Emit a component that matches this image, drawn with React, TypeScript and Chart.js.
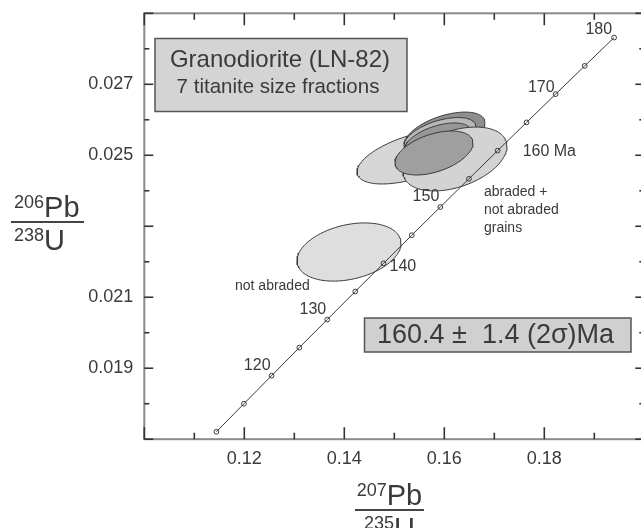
import React, { useEffect, useRef } from 'react';
import { Chart, registerables } from 'chart.js';

Chart.register(...registerables);

const FONT = '"Liberation Sans", Arial, Helvetica, sans-serif';
const TEXT = '#3a3a3a';

// Concordia curve (207Pb/235U, 206Pb/238U), ticks every 5 Ma
const concordiaAges = [110, 115, 120, 125, 130, 135, 140, 145, 150, 155, 160, 165, 170, 175, 180];
const concordiaPb207U235 = [0.11442, 0.11992, 0.12545, 0.131, 0.13659, 0.1422, 0.14784, 0.1535, 0.1592, 0.16492, 0.17067, 0.17645, 0.18226, 0.18809, 0.19396];
const concordiaPb206U238 = [0.01721, 0.017999, 0.018789, 0.01958, 0.020371, 0.021163, 0.021955, 0.022748, 0.023542, 0.024336, 0.025131, 0.025926, 0.026722, 0.027519, 0.028316];
const labelledAges = [120, 130, 140, 150, 160, 170, 180];

// Titanite size fractions: ellipse centre, 2-sigma errors, error correlation
const fractionIds = ['A', 'B', 'C', 'D', 'E', 'F', 'G'];
const fractionPb207U235 = [0.15374, 0.16014, 0.15914, 0.15874, 0.16214, 0.15794, 0.14094];
const fractionPb206U238 = [0.024951, 0.025627, 0.025543, 0.02543, 0.024895, 0.025064, 0.022274];
const fractionErrX = [0.0112, 0.008, 0.0072, 0.0066, 0.0104, 0.0078, 0.0104];
const fractionErrY = [0.00076, 0.00059, 0.00052, 0.00048, 0.0009, 0.00062, 0.00082];
const fractionRho = [0.55, 0.5, 0.5, 0.5, 0.4, 0.45, 0.3];

const xLabelledTicks = [0.12, 0.14, 0.16, 0.18];
const yLabelledTicks = [0.019, 0.021, 0.025, 0.027];

// styles (not data)
const fractionFills = ['#d6d6d6', '#8e8e8e', '#b8b8b8', '#979797', '#d3d3d3', '#9f9f9f', '#dedede'];
const fractionOrder = [7, 6, 5, 4, 3, 2, 8];

function ellipsePoints(i: number) {
  const pts: { x: number; y: number }[] = [];
  const n = 120;
  const r = fractionRho[i];
  const s = Math.sqrt(1 - r * r);
  for (let k = 0; k <= n; k++) {
    const t = (2 * Math.PI * k) / n;
    pts.push({
      x: fractionPb207U235[i] + fractionErrX[i] * Math.cos(t),
      y: fractionPb206U238[i] + fractionErrY[i] * (r * Math.cos(t) + s * Math.sin(t)),
    });
  }
  return pts;
}

const ageLabelPlacement: Record<number, [CanvasTextAlign, number, number, string]> = {
  120: ['right', -1, -10, '120'],
  130: ['right', -1, -10, '130'],
  140: ['left', 6, 3, '140'],
  150: ['right', -1, -10, '150'],
  160: ['left', 25, 1, '160 Ma'],
  170: ['right', -1, -7, '170'],
  180: ['right', -2, -8, '180'],
};

const decorPlugin = {
  id: 'decor',
  afterDraw(chart: any) {
    const { ctx, chartArea: ca, scales } = chart;
    const xs = scales.x;
    const ys = scales.y;
    ctx.save();

    // frame
    ctx.strokeStyle = '#8a8a8a';
    ctx.lineWidth = 2;
    ctx.strokeRect(ca.left, ca.top, ca.right - ca.left, ca.bottom - ca.top);

    const line = (x1: number, y1: number, x2: number, y2: number) => {
      ctx.beginPath();
      ctx.moveTo(x1, y1);
      ctx.lineTo(x2, y2);
      ctx.stroke();
    };
    // inward tick marks on all four sides
    ctx.strokeStyle = '#333';
    ctx.lineWidth = 1.6;
    xs.ticks.forEach((t: any) => {
      const px = xs.getPixelForValue(t.value);
      const major = Math.round(t.value * 100) % 2 === 0;
      const len = major ? 12 : 6.5;
      line(px, ca.bottom, px, ca.bottom - len);
      line(px, ca.top, px, ca.top + len);
    });
    ys.ticks.forEach((t: any) => {
      const py = ys.getPixelForValue(t.value);
      const major = Math.round(t.value * 1000) % 2 === 1;
      const len = major ? 9 : 5;
      line(ca.left, py, ca.left + len, py);
      line(ca.right, py, ca.right - len, py);
    });

    // age labels on the concordia
    ctx.fillStyle = TEXT;
    ctx.font = `16px ${FONT}`;
    ctx.textBaseline = 'middle';
    labelledAges.forEach((age) => {
      const i = concordiaAges.indexOf(age);
      const px = xs.getPixelForValue(concordiaPb207U235[i]);
      const py = ys.getPixelForValue(concordiaPb206U238[i]);
      const [align, dx, dy, txt] = ageLabelPlacement[age];
      ctx.textAlign = align;
      ctx.fillText(txt, px + dx, py + dy);
    });

    // annotations
    ctx.font = `14px ${FONT}`;
    ctx.textAlign = 'left';
    ctx.fillText('not abraded', 235, 286);
    ctx.fillText('abraded +', 484, 192);
    ctx.fillText('not abraded', 484, 210);
    ctx.fillText('grains', 484, 228);

    // title box
    ctx.fillStyle = '#d4d4d4';
    ctx.fillRect(155, 38.5, 252, 73);
    ctx.strokeStyle = '#555';
    ctx.lineWidth = 1.5;
    ctx.strokeRect(155, 38.5, 252, 73);
    ctx.fillStyle = TEXT;
    ctx.textAlign = 'center';
    ctx.font = `24px ${FONT}`;
    ctx.fillText('Granodiorite (LN-82)', 280, 60);
    ctx.font = `20.5px ${FONT}`;
    ctx.fillText('7 titanite size fractions', 278, 87);

    // age box
    ctx.fillStyle = '#d0d0d0';
    ctx.fillRect(364.5, 318, 266.5, 34);
    ctx.strokeStyle = '#555';
    ctx.strokeRect(364.5, 318, 266.5, 34);
    ctx.fillStyle = TEXT;
    ctx.textAlign = 'left';
    ctx.font = `27px ${FONT}`;
    ctx.fillText('160.4 \u00b1  1.4 (2\u03c3)Ma', 377, 336);

    // axis titles as fractions
    const fraction = (
      cx: number, lineY: number, x1: number, x2: number,
      topSup: string, topMain: string, botSup: string, botMain: string, leftAlign: number | null
    ) => {
      ctx.textBaseline = 'alphabetic';
      ctx.textAlign = 'left';
      const supFont = `18px ${FONT}`;
      const mainFont = `29px ${FONT}`;
      const draw = (sup: string, main: string, baseline: number) => {
        ctx.font = supFont;
        const ws = ctx.measureText(sup).width;
        ctx.font = mainFont;
        const wm = ctx.measureText(main).width;
        const start = leftAlign !== null ? leftAlign : cx - (ws + wm) / 2;
        ctx.font = supFont;
        ctx.fillText(sup, start, baseline - 9);
        ctx.font = mainFont;
        ctx.fillText(main, start + ws, baseline);
      };
      draw(topSup, topMain, lineY - 5);
      ctx.strokeStyle = '#444';
      ctx.lineWidth = 2;
      line(x1, lineY, x2, lineY);
      draw(botSup, botMain, lineY + 28);
    };
    ctx.fillStyle = TEXT;
    fraction(47.5, 222, 11, 84, '206', 'Pb', '238', 'U', 14);
    fraction(389.5, 510, 355, 424, '207', 'Pb', '235', 'U', null);

    ctx.restore();
  },
};

export default function App() {
  const ref = useRef<HTMLCanvasElement | null>(null);
  useEffect(() => {
    if (!ref.current) return;
    const ellipseSets = fractionIds.map((id, i) => ({
      label: id,
      data: ellipsePoints(i),
      showLine: true,
      fill: 'shape',
      backgroundColor: fractionFills[i],
      borderColor: '#3a3a3a',
      borderWidth: 1,
      pointRadius: 0,
      tension: 0,
      order: fractionOrder[i],
    }));
    const concordia = {
      label: 'concordia',
      data: concordiaPb207U235.map((x, i) => ({ x, y: concordiaPb206U238[i] })),
      showLine: true,
      fill: false,
      borderColor: '#3a3a3a',
      borderWidth: 1,
      pointRadius: 2.4,
      pointBorderWidth: 1,
      pointBackgroundColor: 'rgba(255,255,255,0)',
      pointBorderColor: '#3a3a3a',
      order: 0,
    };
    const chart = new Chart(ref.current, {
      type: 'scatter',
      data: { datasets: [...ellipseSets, concordia] as any },
      options: {
        animation: false,
        responsive: false,
        devicePixelRatio: 1,
        layout: { padding: { top: 13.3, right: 15.7, left: 0, bottom: 0 } },
        plugins: {
          legend: { display: false },
          tooltip: { enabled: false },
          filler: { drawTime: 'beforeDatasetDraw' },
        },
        scales: {
          x: {
            type: 'linear',
            min: 0.1,
            max: 0.2,
            afterFit: (s: any) => { s.height = 88.8; s.paddingLeft = 0; s.paddingRight = 0; },
            grid: { display: false, drawTicks: false },
            border: { display: false },
            ticks: {
              stepSize: 0.01,
              autoSkip: false,
              maxRotation: 0,
              padding: 9,
              color: TEXT,
              font: { family: FONT, size: 18 },
              callback: (v: any) => {
                const t = xLabelledTicks.find((k) => Math.abs(k - Number(v)) < 1e-7);
                return t !== undefined ? t.toFixed(2) : '';
              },
            },
          },
          y: {
            type: 'linear',
            min: 0.017,
            max: 0.029,
            afterFit: (s: any) => { s.width = 144.3; s.paddingTop = 0; s.paddingBottom = 0; },
            grid: { display: false, drawTicks: false },
            border: { display: false },
            ticks: {
              stepSize: 0.001,
              autoSkip: false,
              maxTicksLimit: 100,
              padding: 11,
              color: TEXT,
              font: { family: FONT, size: 18 },
              callback: (v: any) => {
                const t = yLabelledTicks.find((k) => Math.abs(k - Number(v)) < 1e-8);
                return t !== undefined ? t.toFixed(3) : '';
              },
            },
          },
        },
      } as any,
      plugins: [decorPlugin],
    });
    return () => chart.destroy();
  }, []);

  return (
    <div style={{ position: 'fixed', left: 0, top: 0, width: 641, height: 528, overflow: 'hidden', background: '#fff' }}>
      <canvas ref={ref} width={660} height={528} style={{ display: 'block', width: 660, height: 528 }} />
    </div>
  );
}
